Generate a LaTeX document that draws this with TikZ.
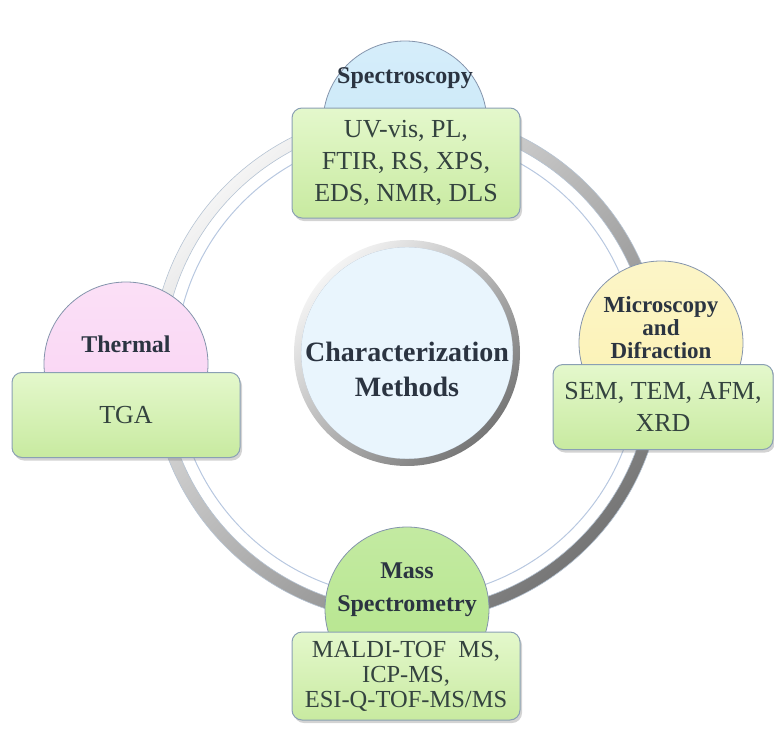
\documentclass[tikz,border=0pt]{standalone}
\usepackage{fontspec}
\setmainfont{Liberation Serif}
\newfontfamily\timesfont{Liberation Serif}
\usepackage{tikz}
\usepackage{xcolor}
\usetikzlibrary{shadows}
\definecolor{boxtop}{HTML}{E4F8CC}
\definecolor{boxbot}{HTML}{C8EAA0}
\definecolor{boxline}{HTML}{8AA0B4}
\definecolor{bubline}{HTML}{8494AC}
\definecolor{titletext}{HTML}{2B3441}
\definecolor{boxtext}{HTML}{34433F}
\definecolor{corefill}{HTML}{E9F5FD}
\definecolor{ringlight}{HTML}{F4F4F4}
\definecolor{ringdark}{HTML}{767676}
\definecolor{ringline}{HTML}{B5C3D3}
\definecolor{innerline}{HTML}{B8C8E0}
\definecolor{specfill}{HTML}{C4E6F8}
\definecolor{thermfill}{HTML}{F9D2F3}
\definecolor{microfill}{HTML}{FBF1B0}
\definecolor{massfill}{HTML}{B4E58A}

\begin{document}
\begin{tikzpicture}[x=1pt,y=-1pt,every node/.style={font=\timesfont\fontsize{26}{32}\selectfont,text=boxtext},
  box/.style={draw=boxline,line width=1pt,rounded corners=10pt,top color=boxtop,bottom color=boxbot,
    drop shadow={opacity=0.35,shadow xshift=2pt,shadow yshift=-3pt},align=center,inner sep=0pt},
  bubble/.style={circle,draw=bubline,line width=0.8pt,minimum size=164pt,inner sep=0pt},
  title/.style={font=\timesfont\bfseries\fontsize{24}{24}\selectfont,text=titletext,align=center}]
\useasboundingbox (0,0) rectangle (774,747);
% ring
\path[even odd rule,top color=ringlight,bottom color=ringdark,shading angle=45] (407,366) circle (256) (407,366) circle (244);
\draw[ringline,line width=0.6pt] (407,366) circle (256) (407,366) circle (244);
\draw[innerline,line width=1pt] (407,366) circle (232);
% centre
\node[circle,minimum size=212pt,fill=corefill,draw=ringline] (core) at (407,353) {};
\path[even odd rule,top color=ringlight,bottom color=ringdark,shading angle=45] (core.center) circle (113) (core.center) circle (106);
\node[font=\timesfont\bfseries\fontsize{28}{35}\selectfont,text=titletext,align=center] (coretext) at (407,369) {Characterization\\Methods};
% bubbles
\node[bubble,top color=specfill!70,bottom color=specfill] (spec) at (405,123) {};
\node[bubble,top color=thermfill!70,bottom color=thermfill] (therm) at (126,364) {};
\node[bubble,top color=microfill!70,bottom color=microfill] (micro) at (661,343) {};
\node[bubble,top color=massfill!80,bottom color=massfill] (mass) at (407,609) {};
\node[title] (spectitle) at (405,78) {Spectroscopy};
\node[title] (thermtitle) at (126,344) {Thermal};
\node[title,font=\timesfont\bfseries\fontsize{23}{23}\selectfont] (microtitle) at (661,328) {Microscopy\\and\\Difraction};
\node[title,font=\timesfont\bfseries\fontsize{24}{33}\selectfont] (masstitle) at (407,590) {Mass\\Spectrometry};
% boxes
\node[box,minimum width=228pt,minimum height=110pt] (specbox) at (406,163) {UV-vis, PL,\\FTIR, RS, XPS,\\EDS, NMR, DLS};
\node[box,minimum width=228pt,minimum height=85pt] (thermbox) at (126,415) {TGA};
\node[box,minimum width=220pt,minimum height=85pt] (microbox) at (663,407) {SEM, TEM, AFM,\\XRD};
\node[box,minimum width=228pt,minimum height=88pt,font=\timesfont\fontsize{24.5}{25}\selectfont] (massbox) at (406,676) {MALDI-TOF~ MS,\\ICP-MS,\\ESI-Q-TOF-MS/MS};
\end{tikzpicture}
\end{document}
